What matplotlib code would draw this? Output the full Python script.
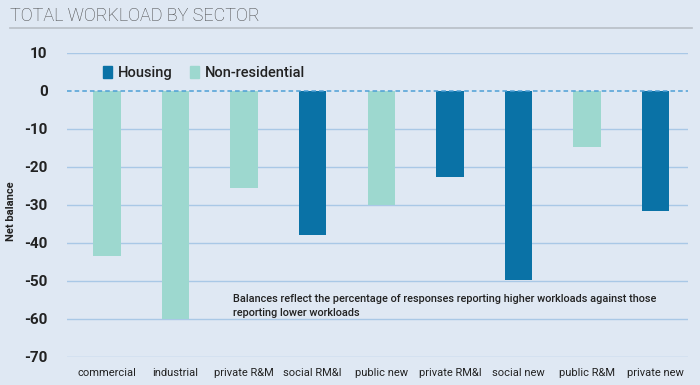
import matplotlib
matplotlib.use("Agg")
import matplotlib.pyplot as plt
from matplotlib.patches import Patch
from matplotlib.lines import Line2D

categories = ["commercial", "industrial", "private R&M", "social RM&I", "public new",
              "private RM&I", "social new", "public R&M", "private new"]
values = [-43.5, -60, -25.5, -38, -30, -22.5, -49.7, -14.7, -31.5]
sector = ["Non-residential", "Non-residential", "Non-residential", "Housing", "Non-residential",
          "Housing", "Housing", "Non-residential", "Housing"]
yticks = [10, 0, -10, -20, -30, -40, -50, -60, -70]

colors = {"Housing": "#0a72a6", "Non-residential": "#9dd8cf"}
bg = "#dfe8f3"

plt.rcParams['font.family'] = ['Roboto', 'DejaVu Sans']
fig = plt.figure(figsize=(7, 3.85), dpi=100, facecolor=bg)
W, H = 700, 385
ax = fig.add_axes([67 / W, 1 - 357 / H, (688 - 67) / W, (357 - 53) / H])
ax.set_facecolor(bg)

x = list(range(len(categories)))
ax.bar(x, values, width=0.4, color=[colors[s] for s in sector], zorder=3)

ax.set_ylim(-70, 10)
ax.set_xlim(-0.58, 8.47)
ax.set_yticks(yticks)
for t in yticks:
    if t == 0:
        ax.axhline(0, color="#4d9fd6", lw=1.1, ls=(0, (3, 2)), zorder=4)
    else:
        ax.axhline(t, color="#a9c8e6", lw=1.0, zorder=1)
ax.set_yticklabels([str(t) for t in yticks], fontsize=11, fontweight="bold", color="#222222")
ax.set_xticks(x)
ax.set_xticklabels(categories, fontsize=8, color="#222222")
ax.tick_params(axis="both", length=0)
ax.tick_params(axis="y", pad=14)
ax.tick_params(axis="x", pad=8)
for s in ax.spines.values():
    s.set_visible(False)

ax.set_ylabel("Net balance", fontsize=8, fontweight="bold", color="#222222")
ax.yaxis.set_label_coords(-0.082, 0.48)

handles = [Patch(color=colors["Housing"], label="Housing"),
           Patch(color=colors["Non-residential"], label="Non-residential")]
leg = ax.legend(handles=handles, loc="center left", bbox_to_anchor=(0.058, 0.934), ncol=2,
                frameon=False, fontsize=10.5, handlelength=0.6, handleheight=0.8,
                handletextpad=0.4, columnspacing=1.2, borderpad=0, borderaxespad=0)
for t in leg.get_texts():
    t.set_fontweight("medium")
    t.set_color("#222222")

ax.text(233 / W, 1 - 306 / H, "Balances reflect the percentage of responses reporting higher workloads against those\nreporting lower workloads",
        transform=fig.transFigure, fontsize=7.8, fontweight="medium", color="#222222",
        va="center", ha="left", linespacing=1.55, zorder=5)

fig.text(10 / W, 1 - 16 / H, "TOTAL WORKLOAD BY SECTOR", fontsize=13, color="#444444",
         va="center", ha="left", fontweight="light")
fig.add_artist(Line2D([10 / W, 692 / W], [1 - 28 / H, 1 - 28 / H], transform=fig.transFigure,
                      color="#b8bec6", lw=1.2))

fig.savefig("out.png", dpi=100, facecolor=bg)
